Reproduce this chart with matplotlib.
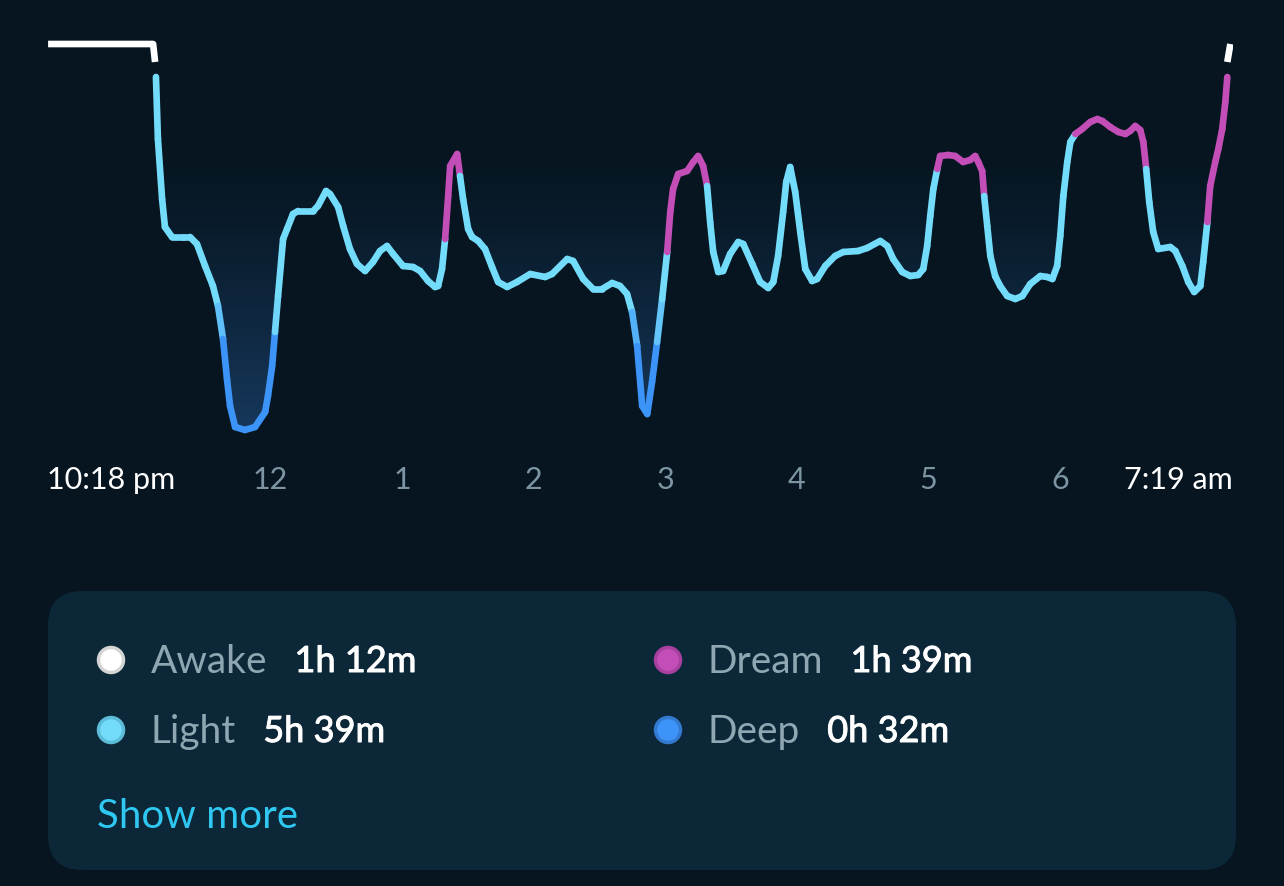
import numpy as np
import matplotlib
matplotlib.use("Agg")
import matplotlib.pyplot as plt
from matplotlib.collections import LineCollection
from matplotlib.patches import FancyBboxPatch, Polygon, Ellipse
from matplotlib.colors import to_rgb, LinearSegmentedColormap
import matplotlib.patheffects as pe

plt.rcParams['font.family'] = ['Lato', 'DejaVu Sans']

# minutes after 10:18 pm, and a sleep "height" (0 = deepest, 395 = awake)
t_sleep = [49.7, 50.6, 52.5, 53.8, 57.0, 62.1, 65.2, 68.4, 72.1, 75.7, 78.0, 80.3, 82.1, 83.5,
           85.8, 90.3, 94.9, 99.5, 100.8, 102.7, 104.0, 105.4, 107.7, 109.5, 112.2, 114.5, 121.4,
           123.6, 127.3, 129.1, 132.8, 135.1, 138.2, 141.4, 145.1, 148.7, 151.9, 155.1, 157.9,
           162.4, 167.0, 170.2, 173.8, 177.0, 178.4, 180.2, 181.6, 183.0, 183.9, 187.1, 188.4,
           189.8, 192.1, 193.9, 196.7, 199.8, 203.0, 205.8, 209.9, 214.4, 220.4, 227.2, 230.4,
           237.3, 240.0, 244.6, 249.1, 253.2, 257.8, 261.4, 264.6, 266.9, 269.2, 271.5, 273.8,
           276.0, 278.3, 280.6, 282.9, 284.3, 285.6, 287.9, 292.0, 294.8, 297.0, 299.3, 301.1,
           302.5, 303.9, 306.2, 308.4, 311.6, 315.3, 317.6, 321.7, 325.3, 329.0, 331.3, 333.5,
           335.8, 337.2, 339.0, 341.3, 343.6, 345.9, 349.0, 351.3, 355.0, 359.5, 363.2, 370.0,
           374.1, 380.1, 383.3, 386.0, 390.1, 393.8, 397.4, 399.7, 401.5, 402.9, 404.3, 406.1,
           407.4, 411.1, 414.3, 417.9, 421.1, 423.4, 424.8, 426.6, 427.5, 428.9, 430.3, 432.5,
           434.8, 438.0, 441.7, 444.9, 448.5, 453.1, 456.3, 458.6, 460.8, 462.2, 463.6, 465.4,
           466.8, 469.1, 472.2, 475.9, 479.1, 481.4, 485.0, 488.7, 491.9, 494.1, 496.4, 498.7,
           500.1, 501.4, 502.8, 504.6, 506.9, 512.4, 514.7, 517.9, 520.6, 523.3, 526.1, 527.4,
           529.3, 530.6, 532.9, 534.3, 536.1, 537.5, 538.4]
v_sleep = [362, 300, 240, 212, 202, 202, 202, 195, 173, 153, 133, 100, 60, 33,
           12, 9, 12, 27, 43, 73, 107, 143, 200, 210, 225, 228, 228,
           233, 248, 245, 232, 213, 190, 175, 168, 177, 188, 193, 185,
           173, 172, 168, 158, 152, 153, 170, 200, 243, 273, 285, 263,
           240, 210, 202, 198, 190, 172, 157, 152, 157, 165, 162, 165,
           180, 178, 160, 150, 150, 156, 153, 145, 127, 93, 33, 25,
           57, 97, 140, 187, 227, 250, 265, 268, 277, 283, 273, 253,
           217, 187, 167, 168, 185, 197, 195, 175, 157, 151, 157, 183,
           227, 257, 272, 247, 207, 170, 158, 160, 173, 183, 187, 188,
           191, 198, 193, 180, 167, 163, 164, 170, 193, 223, 250, 270,
           283, 284, 283, 277, 279, 283, 277, 268, 243, 213, 183, 163,
           153, 143, 140, 143, 155, 163, 162, 160, 173, 203, 243, 277,
           297, 305, 310, 317, 320, 318, 312, 307, 305, 308, 313, 309,
           297, 270, 237, 207, 190, 192, 188, 173, 157, 147, 153, 177,
           217, 253, 277, 290, 310, 337, 362]

# awake pieces at the start and the end of the night
awake_t = [[0.5, 48.4, 49.3], [538.4, 539.8]]
awake_v = [[395, 395, 377], [377, 395]]

# REM ("Dream") spans in minutes
dream_spans = [(181.6, 188.9), (283.3, 301.6), (406.1, 414.8), (415.6, 427.5),
               (468.4, 481.0), (481.8, 491.3), (492.2, 501.0), (529.3, 538.4)]

hour_ticks = [0, 102, 162, 222, 282, 342, 402, 462, 541]
hour_labels = ['10:18 pm', '12', '1', '2', '3', '4', '5', '6', '7:19 am']

stage_names = ['Awake', 'Light', 'Dream', 'Deep']
stage_times = ['1h 12m', '5h 39m', '1h 39m', '0h 32m']

BG = '#061520'
LIGHT = '#74dcfb'
DEEP = '#3d94f8'
DREAM = '#c44eb8'
AWAKE = '#ffffff'

fig = plt.figure(figsize=(12.84, 8.87), dpi=100)
fig.patch.set_facecolor(BG)
W, H = 1284, 887

ax = fig.add_axes([47 / W, 1 - 440 / H, (1233 - 47) / W, 400 / H])
ax.set_facecolor(BG)
for s in ax.spines.values():
    s.set_visible(False)
ax.set_yticks([])

t = np.array(t_sleep)
v = np.array(v_sleep)

# gradient fill between the line and the top
poly = Polygon(np.column_stack([np.r_[t, t[-1], t[0]], np.r_[v, 400, 400]]),
               closed=True, facecolor='none', edgecolor='none')
ax.add_patch(poly)
grad_cmap = LinearSegmentedColormap.from_list('g', [BG, '#17395e'])
rows = np.linspace(0, 400, 400)
shade = np.clip((290 - rows) / 290, 0, 1) ** 1.25
img = ax.imshow(shade.reshape(-1, 1), cmap=grad_cmap, aspect='auto',
                extent=[0, 541, 0, 400], origin='lower', zorder=1, vmin=0, vmax=1)
img.set_clip_path(poly)


def seg_color(tm, vm):
    for a, b in dream_spans:
        if a <= tm <= b:
            return to_rgb(DREAM)
    c1, c2 = np.array(to_rgb(LIGHT)), np.array(to_rgb(DEEP))
    f = np.clip((128 - vm) / 30.0, 0, 1)
    return tuple(c1 * (1 - f) + c2 * f)


pts = np.column_stack([t, v])
segs = np.stack([pts[:-1], pts[1:]], axis=1)
cols = [seg_color((t[i] + t[i + 1]) / 2, (v[i] + v[i + 1]) / 2) for i in range(len(t) - 1)]
lc = LineCollection(segs, colors=cols, linewidths=4.8, capstyle='round', joinstyle='round', zorder=3)
ax.add_collection(lc)

for at, av in zip(awake_t, awake_v):
    ax.plot(at, av, color=AWAKE, lw=4.8, solid_capstyle='butt', solid_joinstyle='round', zorder=3)

ax.set_xlim(0, 541)
ax.set_ylim(0, 400)
ax.set_xticks(hour_ticks)
ax.set_xticklabels(hour_labels, fontsize=22)
ax.tick_params(axis='x', length=0, pad=19, colors='#7d95a3')
labels = ax.get_xticklabels()
labels[0].set_ha('left')
labels[-1].set_ha('right')
for lb in (labels[0], labels[-1]):
    lb.set_color('white')

# summary panel
panel = FancyBboxPatch((48 / W, 1 - 871 / H), (1236 - 48) / W, (871 - 592) / H,
                       boxstyle='round,pad=0,rounding_size=0.027', transform=fig.transFigure,
                       facecolor='#0c2737', edgecolor='none', zorder=0, mutation_aspect=W / H)
fig.patches.append(panel)

marker_cols = [(AWAKE, '#d4d4d4'), (LIGHT, '#5cbcd8'), (DREAM, '#a8409f'), (DEEP, '#3479d0')]
pos = [(111, 661), (111, 731), (668, 661), (668, 731)]
thick = [pe.withStroke(linewidth=0.7, foreground='white')]
for (mx, my), name, val, (fc, ec) in zip(pos, stage_names, stage_times, marker_cols):
    fig.patches.append(Ellipse((mx / W, 1 - my / H), 25 / W, 25 / H, transform=fig.transFigure,
                               facecolor=fc, edgecolor=ec, lw=2.5, zorder=2))
    lx = mx + 40
    txt = fig.text(lx / W, 1 - (my + 12) / H, name, fontsize=28, color='#8ea7b3', va='baseline')
    fig.canvas.draw()
    bb = txt.get_window_extent()
    fig.text((bb.x1 + 27) / W, 1 - (my + 12) / H, val, fontsize=26, color='white',
             va='baseline', path_effects=thick)

fig.text(97 / W, 1 - 828 / H, 'Show more', fontsize=29, color='#2ec8f2', va='baseline')

fig.savefig('out.png', dpi=100, facecolor=BG)
